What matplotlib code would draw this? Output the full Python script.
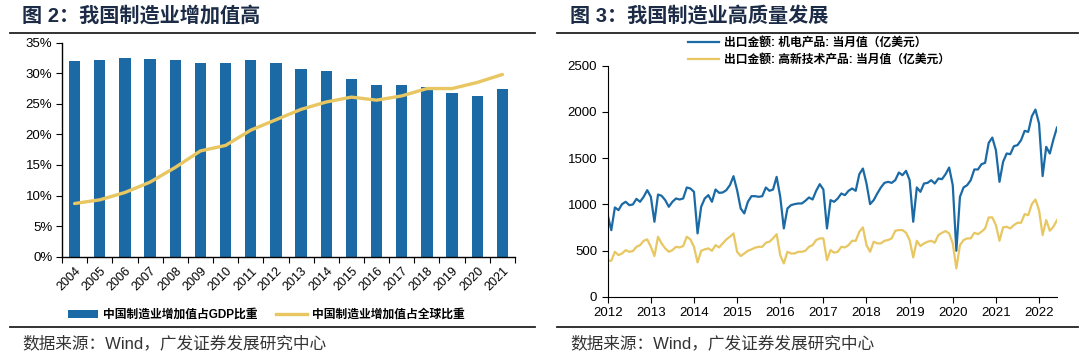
import numpy as np
import matplotlib
matplotlib.use("Agg")
import matplotlib.pyplot as plt
from matplotlib.lines import Line2D
from matplotlib.patches import Patch

plt.rcParams['font.family'] = ['Liberation Sans', 'Noto Sans CJK SC']
plt.rcParams['axes.unicode_minus'] = False

# ==========================================================
# DATA - LEFT PANEL (图 2)
# ==========================================================
years = ["2004", "2005", "2006", "2007", "2008", "2009", "2010", "2011", "2012",
         "2013", "2014", "2015", "2016", "2017", "2018", "2019", "2020", "2021"]
gdp_share = [32.0, 32.1, 32.5, 32.4, 32.1, 31.6, 31.6, 32.1, 31.6,
             30.7, 30.4, 29.0, 28.1, 28.1, 27.8, 26.8, 26.3, 27.4]
global_share = [8.7, 9.3, 10.5, 12.2, 14.6, 17.3, 18.2, 20.7, 22.4,
                24.1, 25.3, 26.1, 25.6, 26.3, 27.5, 27.5, 28.5, 29.8]

# ==========================================================
# DATA - RIGHT PANEL (图 3), monthly Jan 2012 - Jun 2022
# ==========================================================
mech_elec = [
    883, 720, 966, 937, 1002, 1027, 991, 998, 1059, 1027, 1081, 1153,   # 2012
    1081, 811, 1106, 1092, 1045, 973, 1027, 1063, 1052, 1063, 1182, 1171,  # 2013
    1135, 685, 973, 1063, 1099, 1027, 1160, 1124, 1128, 1153, 1207, 1304,  # 2014
    1153, 955, 901, 1027, 1088, 1088, 1081, 1088, 1182, 1146, 1160, 1297,  # 2015
    1081, 739, 955, 991, 1002, 1009, 1009, 1038, 1074, 1052, 1146, 1218,   # 2016
    1160, 739, 1045, 1027, 1063, 1117, 1099, 1146, 1171, 1146, 1326, 1387,  # 2017
    1225, 1002, 1045, 1117, 1182, 1232, 1243, 1232, 1261, 1344, 1315, 1362,  # 2018
    1261, 811, 1182, 1135, 1225, 1232, 1261, 1225, 1279, 1272, 1326, 1398,  # 2019
    1207, 497, 1081, 1182, 1207, 1261, 1377, 1377, 1434, 1449, 1665, 1722,  # 2020
    1586, 1243, 1459, 1550, 1542, 1629, 1640, 1694, 1795, 1784, 1953, 2025,  # 2021
    1874, 1305, 1622, 1550, 1701, 1831,                                   # 2022
]
high_tech = [
    389, 389, 486, 450, 468, 504, 486, 494, 540, 558, 605, 620,
    540, 440, 649, 577, 523, 486, 504, 540, 533, 548, 649, 620,
    540, 371, 497, 512, 523, 497, 558, 533, 577, 620, 649, 685,
    486, 440, 468, 497, 512, 530, 540, 540, 584, 595, 631, 677,
    450, 360, 486, 468, 468, 486, 486, 497, 540, 558, 613, 631,
    631, 396, 504, 476, 486, 540, 533, 558, 605, 605, 703, 750,
    558, 486, 595, 577, 577, 605, 613, 631, 714, 721, 721, 692,
    613, 425, 605, 548, 577, 595, 605, 584, 667, 692, 710, 685,
    577, 306, 558, 613, 631, 631, 692, 677, 703, 739, 858, 858,
    775, 605, 750, 757, 739, 775, 800, 800, 894, 883, 1002, 1052,
    937, 667, 829, 714, 757, 829,
]
year_ticks = ["2012", "2013", "2014", "2015", "2016", "2017",
              "2018", "2019", "2020", "2021", "2022"]

BLUE = "#1B6AA5"
GOLD = "#E8C661"
NAVY = "#1C2B46"
W, H = 1080, 354

fig = plt.figure(figsize=(W / 100, H / 100), dpi=100)


def fx(px):
    return px / W


def fy(py):
    return 1 - py / H


# ==========================================================
# HEADERS, RULES, SOURCES
# ==========================================================
fig.text(fx(22), fy(16), "图 2：我国制造业增加值高", fontsize=14.5, fontweight="bold",
         color=NAVY, va="center", ha="left")
fig.text(fx(570), fy(16), "图 3：我国制造业高质量发展", fontsize=14.5, fontweight="bold",
         color=NAVY, va="center", ha="left")

for x0, x1 in [(10, 535), (557, 1078)]:
    for yy in (33, 327):
        fig.add_artist(Line2D([fx(x0), fx(x1)], [fy(yy), fy(yy)], color="#222222",
                              linewidth=1.3, transform=fig.transFigure))

for x0 in (22, 570):
    fig.text(fx(x0), fy(343), "数据来源：Wind，广发证券发展研究中心", fontsize=12,
             color="#333333", va="center", ha="left")

# ==========================================================
# LEFT PANEL
# ==========================================================
ax1 = fig.add_axes([fx(62), fy(256.7), fx(515 - 62), (256.7 - 42.7) / H])
xpos = np.arange(len(years))
ax1.bar(xpos, gdp_share, width=0.45, color=BLUE, label="中国制造业增加值占GDP比重", zorder=2)
ax1.plot(xpos, global_share, color=GOLD, linewidth=2.4, solid_capstyle="round",
         solid_joinstyle="round", label="中国制造业增加值占全球比重", zorder=3)
ax1.set_xlim(-0.5, len(years) - 0.5)
ax1.set_ylim(0, 35)
ax1.set_yticks(np.arange(0, 36, 5))
ax1.set_yticklabels([f"{v}%" for v in range(0, 36, 5)])
ax1.set_xticks(np.arange(-0.5, len(years), 1.0))
ax1.set_xticklabels([])
ax1.set_xticks(xpos, minor=True)
ax1.set_xticklabels(years, minor=True, rotation=45, ha="right", va="top",
                    rotation_mode="anchor")
ax1.tick_params(axis="x", which="minor", length=0, pad=6, labelsize=9)
ax1.tick_params(axis="x", which="major", length=4, direction="out")
ax1.tick_params(axis="y", length=4, direction="out", labelsize=9.5, pad=3)
for s in ("top", "right"):
    ax1.spines[s].set_visible(False)
for s in ("left", "bottom"):
    ax1.spines[s].set_linewidth(1.0)

handles1 = [Patch(facecolor=BLUE, edgecolor="none"),
            Line2D([], [], color=GOLD, linewidth=2.4)]
fig.legend(handles1, ["中国制造业增加值占GDP比重", "中国制造业增加值占全球比重"],
           loc="center", bbox_to_anchor=(fx(266), fy(315)), ncol=2, frameon=False,
           prop={"size": 8.5, "weight": "bold"}, handlelength=2.6, handleheight=0.7,
           handletextpad=0.4, columnspacing=1.6)

# ==========================================================
# RIGHT PANEL
# ==========================================================
ax2 = fig.add_axes([fx(607.7), fy(296.7), fx(1057 - 607.7), (296.7 - 65.7) / H])
months = np.arange(len(mech_elec))
ax2.plot(months, mech_elec, color=BLUE, linewidth=1.6, solid_joinstyle="round")
ax2.plot(months, high_tech, color=GOLD, linewidth=1.6, solid_joinstyle="round")
ax2.set_xlim(0, len(mech_elec) - 1)
ax2.set_ylim(0, 2500)
ax2.set_yticks(np.arange(0, 2501, 500))
ax2.set_xticks(np.arange(0, 12 * len(year_ticks), 12))
ax2.set_xticklabels(year_ticks)
ax2.tick_params(axis="both", length=4, direction="out", labelsize=9.5)
for s in ("top", "right"):
    ax2.spines[s].set_visible(False)

handles2 = [Line2D([], [], color=BLUE, linewidth=1.6),
            Line2D([], [], color=GOLD, linewidth=1.6)]
fig.legend(handles2, ["出口金额: 机电产品: 当月值（亿美元）",
                      "出口金额: 高新技术产品: 当月值（亿美元）"],
           loc="upper left", bbox_to_anchor=(fx(680), fy(29)), ncol=1, frameon=False,
           prop={"size": 8.5, "weight": "bold"}, handlelength=2.6,
           handletextpad=0.4, labelspacing=0.45, borderpad=0.2)

fig.savefig("out.png", dpi=100)
